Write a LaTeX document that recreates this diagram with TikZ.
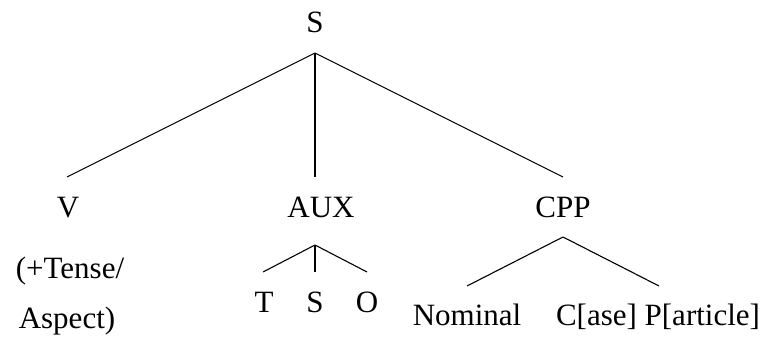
\documentclass[tikz,border=0pt]{standalone}
\usepackage{fontspec}
\setmainfont{Liberation Serif}
\begin{document}
\begin{tikzpicture}[x=1pt,y=-1pt,
  lbl/.style={anchor=base,inner sep=0pt,font=\fontsize{31}{37}\selectfont},
  branch/.style={line width=1.1pt}]
\useasboundingbox (0,0) rectangle (767,339);
% labels
\node[lbl] (s) at (315,33) {S};
\node[lbl] (v) at (68,217) {V};
\node[lbl] (aux) at (321,217) {AUX};
\node[lbl] (cpp) at (563,217) {CPP};
\node[lbl] (tense) at (70,278) {(+Tense/};
\node[lbl] (aspect) at (67,328) {Aspect)};
\node[lbl] (t) at (264,312) {T};
\node[lbl] (s2) at (315,312) {S};
\node[lbl] (o) at (367,312) {O};
\node[lbl] (nom) at (467,325) {Nominal};
\node[lbl] (cp) at (658,325) {C[ase] P[article]};
% branch points
\coordinate (sTop) at (315,53);
\coordinate (vEnd) at (67,177);
\coordinate (auxEnd) at (315,177);
\coordinate (cppEnd) at (563,177);
\coordinate (auxTop) at (315,245);
\coordinate (tEnd) at (263,272);
\coordinate (sEnd) at (315,272);
\coordinate (oEnd) at (367,272);
\coordinate (cppTop) at (563,237);
\coordinate (nomEnd) at (467,286);
\coordinate (cpEnd) at (659,286);
% branches
\draw[branch] (sTop) -- (vEnd);
\draw[branch] (sTop) -- (auxEnd);
\draw[branch] (sTop) -- (cppEnd);
\draw[branch] (auxTop) -- (tEnd);
\draw[branch] (auxTop) -- (sEnd);
\draw[branch] (auxTop) -- (oEnd);
\draw[branch] (cppTop) -- (nomEnd);
\draw[branch] (cppTop) -- (cpEnd);
\end{tikzpicture}
\end{document}
